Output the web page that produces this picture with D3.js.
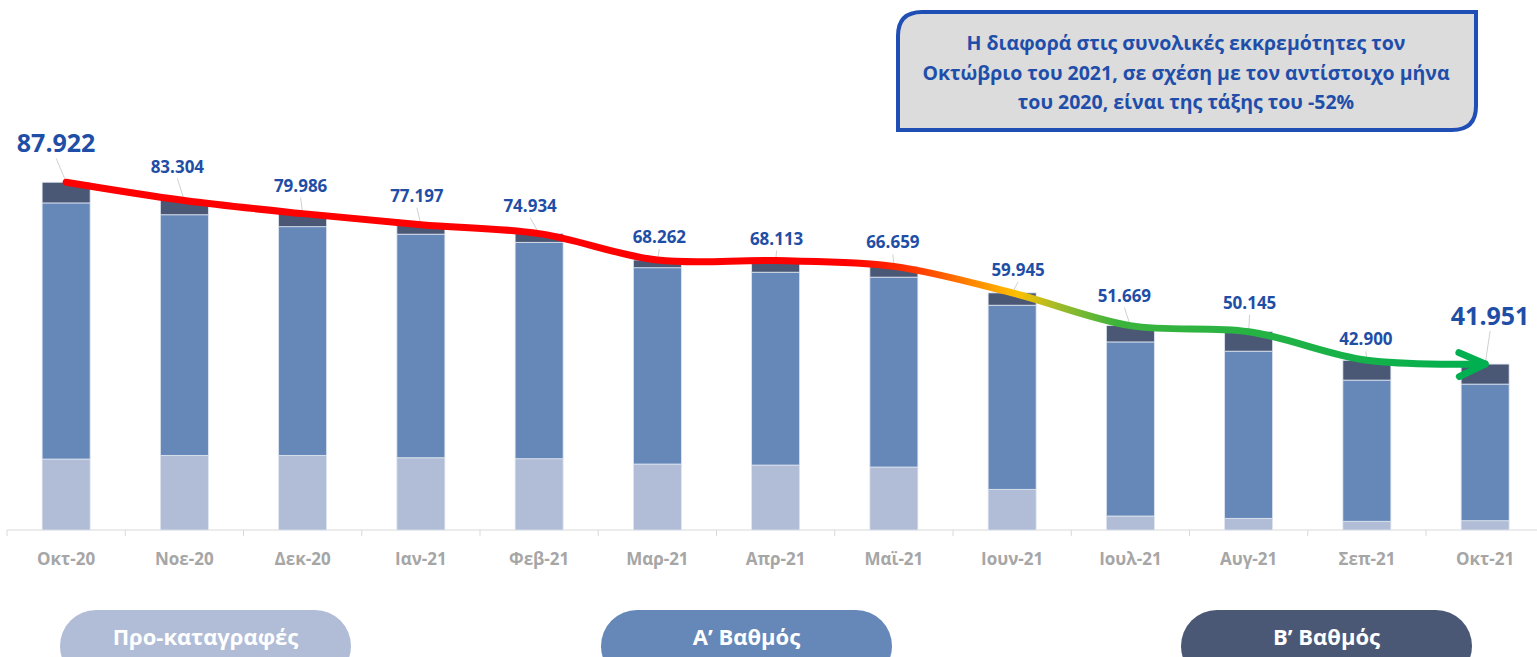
<!DOCTYPE html>
<html>
<head>
<meta charset="utf-8">
<script src="https://cdn.jsdelivr.net/npm/d3@7"></script>
<style>
  body { margin: 0; background: #fff; }
  text { font-family: "Open Sans", "Noto Sans", sans-serif; font-weight: 700; }
</style>
</head>
<body>
<div id="chart"></div>
<script>
// months on the x axis
const months = ["Οκτ-20", "Νοε-20", "Δεκ-20", "Ιαν-21", "Φεβ-21", "Μαρ-21", "Απρ-21",
  "Μαϊ-21", "Ιουν-21", "Ιουλ-21", "Αυγ-21", "Σεπ-21", "Οκτ-21"];
// total pending cases (labels)
const totals = [87922, 83304, 79986, 77197, 74934, 68262, 68113, 66659, 59945, 51669, 50145, 42900, 41951];
// series
const preReg = [17940, 18870, 18870, 18270, 18020, 16680, 16420, 15920, 10280, 3540, 2950, 2200, 2350];
const gradeA = [64752, 60834, 57816, 56527, 54714, 49632, 48763, 48009, 46555, 44009, 42265, 35700, 34541];
const gradeB = [5230, 3600, 3300, 2400, 2200, 1950, 2930, 2730, 3110, 4120, 4930, 5000, 5060];
const seriesNames = ["Προ-καταγραφές", "Α’ Βαθμός", "Β’ Βαθμός"];
const colors = ["#b1bdd6", "#6588b8", "#4a5876"];
const noteLines = ["Η διαφορά στις συνολικές εκκρεμότητες τον",
  "Οκτώβριο του 2021, σε σχέση με τον αντίστοιχο μήνα",
  "του 2020, είναι της τάξης του -52%"];

// label nudges (px) relative to the bar top
const labelDx = [-10, -7, -2, -4, -9, 2, 1, -1, 6, -6, 1, -1, 5];
const labelDy = [-30, -28, -22, -23, -22, -17, -16, -18, -17, -24, -23, -15, -39];

const W = 1537, H = 657, baseY = 530;

const svg = d3.select("#chart").append("svg")
  .attr("width", W).attr("height", H);

const data = months.map((m, i) => ({month: m, pre: preReg[i], a: gradeA[i], b: gradeB[i], total: totals[i]}));

const x = d3.scaleBand().domain(months).range([7, 7 + 13 * 118.25]).padding(0);
const y = d3.scaleLinear().domain([0, 134000]).range([baseY, 0]);
const barW = 48;
const cx = d => x(d) + x.bandwidth() / 2;

const fmt = d3.formatLocale({decimal: ",", thousands: ".", grouping: [3], currency: ["", "€"]}).format(",d");

// axis
const axis = svg.append("g").attr("transform", `translate(0,${baseY})`);
axis.append("line").attr("x1", 7).attr("x2", W).attr("stroke", "#d9d9d9").attr("stroke-width", 1.2);
axis.selectAll(".tk").data(months).enter().append("line")
  .attr("x1", d => x(d)).attr("x2", d => x(d))
  .attr("y1", 0).attr("y2", 6)
  .attr("stroke", "#d9d9d9");
axis.selectAll(".lbl").data(months).enter().append("text")
  .attr("x", d => cx(d)).attr("y", 35)
  .attr("text-anchor", "middle")
  .attr("fill", "#a6a6a6")
  .style("font-size", "17px")
  .text(d => d);

// stacked bars
const stack = d3.stack().keys(["pre", "a", "b"])(data);
svg.append("g").selectAll("g").data(stack).enter().append("g")
  .attr("fill", (d, i) => colors[i])
  .selectAll("rect").data(d => d).enter().append("rect")
  .attr("x", d => cx(d.data.month) - barW / 2)
  .attr("width", barW)
  .attr("y", d => y(d[1]))
  .attr("height", d => y(d[0]) - y(d[1]))
  .attr("stroke", "#dfe5f0")
  .attr("stroke-width", 0.8);

// gradient trend line
const defs = svg.append("defs");
const x0 = cx(months[0]), x1 = cx(months[months.length - 1]);
const grad = defs.append("linearGradient").attr("id", "trend")
  .attr("gradientUnits", "userSpaceOnUse")
  .attr("x1", x0).attr("x2", x1).attr("y1", 0).attr("y2", 0);
[[0, "#ff0000"], [0.55, "#ff0000"], [0.6, "#ff3a00"], [0.64, "#ff8a00"], [0.67, "#ffc000"],
 [0.7, "#9dbb2a"], [0.74, "#3cb43c"], [1, "#00b050"]]
  .forEach(s => grad.append("stop").attr("offset", s[0]).attr("stop-color", s[1]));

defs.append("marker").attr("id", "arrow")
  .attr("markerUnits", "userSpaceOnUse")
  .attr("viewBox", "-40 -20 44 40")
  .attr("refX", 0).attr("refY", 0)
  .attr("markerWidth", 44).attr("markerHeight", 40)
  .attr("orient", "auto")
  .append("path")
  .attr("d", "M-26,-12 L0,0 L-26,12")
  .attr("fill", "none").attr("stroke", "#00b050")
  .attr("stroke-width", 7).attr("stroke-linecap", "round").attr("stroke-linejoin", "round");

const line = d3.line()
  .x(d => cx(d.month))
  .y(d => y(d.total))
  .curve(d3.curveCatmullRom.alpha(0.5));

// leader lines
svg.append("g").selectAll("line").data(data).enter().append("line")
  .attr("x1", d => cx(d.month)).attr("y1", d => y(d.total))
  .attr("x2", (d, i) => cx(d.month) + labelDx[i])
  .attr("y2", (d, i) => y(d.total) + labelDy[i] + 6)
  .attr("stroke", "#d0d0d0").attr("stroke-width", 1);

svg.append("path").datum(data)
  .attr("d", line)
  .attr("fill", "none")
  .attr("stroke", "url(#trend)")
  .attr("stroke-width", 7)
  .attr("stroke-linecap", "round")
  .attr("marker-end", "url(#arrow)");

// total labels
const last = data.length - 1;
svg.append("g").selectAll("text").data(data).enter().append("text")
  .attr("x", (d, i) => cx(d.month) + labelDx[i])
  .attr("y", (d, i) => y(d.total) + labelDy[i])
  .attr("text-anchor", "middle")
  .attr("fill", "#1f4ea6")
  .style("font-size", (d, i) => (i === 0 || i === last) ? "25px" : "17px")
  .text(d => fmt(d.total));

// note box
const bx = 898, by = 12, bw = 578, bh = 118, r = 24;
svg.append("path")
  .attr("d", `M${bx},${by + r} Q${bx},${by} ${bx + r},${by} L${bx + bw},${by} L${bx + bw},${by + bh - r}
    Q${bx + bw},${by + bh} ${bx + bw - r},${by + bh} L${bx},${by + bh} Z`)
  .attr("fill", "#dcdcdc")
  .attr("stroke", "#1f4eb4")
  .attr("stroke-width", 4);
svg.append("g").selectAll("text").data(noteLines).enter().append("text")
  .attr("x", bx + bw / 2 - 1)
  .attr("y", (d, i) => 50 + i * 29.5)
  .attr("text-anchor", "middle")
  .attr("fill", "#1f4eaa")
  .style("font-size", "19.5px")
  .text(d => d);

// legend pills
const pillX = [60, 601, 1181];
const leg = svg.append("g").selectAll("g").data(seriesNames).enter().append("g")
  .attr("transform", (d, i) => `translate(${pillX[i]},610)`);
leg.append("rect")
  .attr("width", 291).attr("height", 72).attr("rx", 36).attr("ry", 36)
  .attr("fill", (d, i) => colors[i]);
leg.append("text")
  .attr("x", 145.5).attr("y", 35)
  .attr("text-anchor", "middle")
  .attr("fill", "#fff")
  .style("font-size", "22px")
  .text(d => d);
</script>
</body>
</html>
